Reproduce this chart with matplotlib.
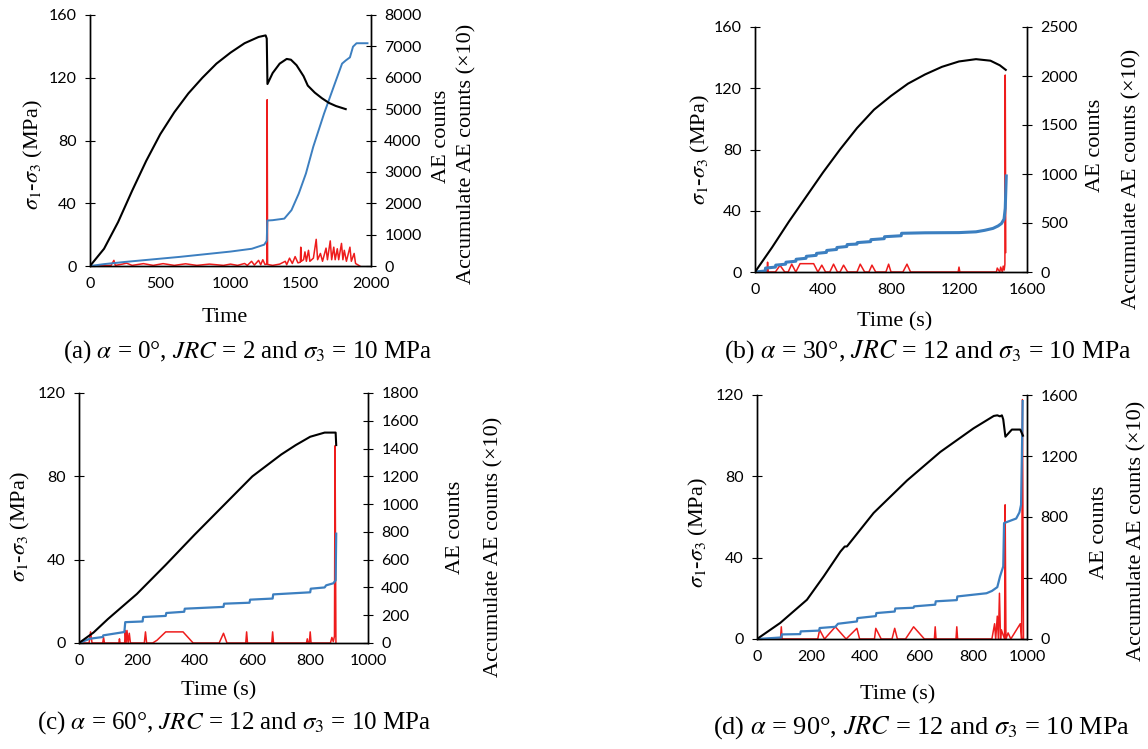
import numpy as np
import matplotlib
matplotlib.use('Agg')
import matplotlib.pyplot as plt
from matplotlib.ticker import MultipleLocator

plt.rcParams['mathtext.fontset'] = 'stix'
plt.rcParams['font.family'] = ['Liberation Serif', 'DejaVu Serif']

# ---- panel (a): alpha = 0, JRC = 2 ----
a_stress = [(0, 0), (100, 11), (200, 28), (300, 48), (400, 67), (500, 84), (600, 98),
            (700, 110), (800, 120), (900, 129), (1000, 136), (1100, 142), (1200, 146),
            (1250, 147), (1258, 145), (1263, 116), (1300, 123), (1350, 129), (1400, 132),
            (1430, 131.5), (1470, 128), (1520, 121), (1550, 115), (1600, 110.5),
            (1650, 107), (1700, 104), (1750, 102), (1820, 100)]
a_cum = [(0, 0), (100, 60), (250, 130), (637, 290), (1000, 460), (1152, 550), (1240, 680),
         (1258, 800), (1262, 1450), (1300, 1460), (1383, 1510), (1434, 1780), (1486, 2310),
         (1537, 2950), (1589, 3800), (1666, 4860), (1743, 5820), (1794, 6450), (1820, 6550),
         (1850, 6650), (1872, 6990), (1897, 7100), (1975, 7100)]
a_ae = [(0, 0), (150, 20), (170, 180), (180, 20), (230, 60), (260, 90), (300, 20), (380, 75),
        (450, 20), (520, 75), (600, 20), (680, 70), (760, 20), (850, 60), (950, 20),
        (1000, 60), (1050, 20), (1100, 80), (1120, 20), (1150, 150), (1170, 30), (1200, 180),
        (1215, 40), (1230, 200), (1245, 50), (1258, 60), (1261, 5300), (1264, 50),
        (1300, 20), (1350, 60), (1390, 150), (1400, 40), (1420, 250), (1440, 80),
        (1460, 300), (1480, 100), (1497, 120), (1500, 600), (1503, 150), (1520, 200),
        (1530, 450), (1540, 150), (1555, 500), (1565, 150), (1590, 250), (1610, 850),
        (1620, 200), (1640, 400), (1655, 150), (1680, 570), (1690, 200), (1710, 800),
        (1720, 200), (1735, 600), (1745, 200), (1760, 550), (1770, 200), (1790, 720),
        (1800, 200), (1810, 500), (1825, 150), (1850, 600), (1860, 150), (1880, 400),
        (1890, 80), (1920, 0)]

# ---- panel (b): alpha = 30, JRC = 12 ----
b_stress = [(0, 0), (100, 16), (200, 33), (300, 49), (400, 65), (500, 80), (600, 94),
            (700, 106), (800, 115), (900, 123), (1000, 129), (1100, 134), (1200, 137.5),
            (1300, 139), (1385, 138), (1440, 135), (1475, 132)]
b_cum = [(0, 0), (60, 10), (62, 40), (120, 50), (122, 70), (180, 80), (182, 100), (240, 110),
         (242, 130), (300, 140), (302, 160), (360, 170), (362, 190), (420, 200), (422, 220),
         (480, 230), (482, 250), (540, 260), (542, 280), (600, 285), (602, 300), (680, 310),
         (682, 330), (760, 340), (762, 360), (860, 370), (862, 395), (1000, 400),
         (1200, 402), (1300, 410), (1350, 425), (1400, 445), (1430, 470), (1450, 495),
         (1465, 540), (1472, 650), (1478, 980)]
b_ae = [(0, 0), (70, 0), (74, 100), (78, 0), (120, 0), (147, 68), (175, 0), (195, 0),
        (216, 80), (240, 0), (265, 85), (345, 85), (370, 0), (393, 70), (415, 0), (440, 0),
        (462, 80), (485, 0), (500, 0), (521, 70), (545, 0), (600, 0), (619, 80), (645, 0),
        (670, 0), (688, 70), (710, 0), (770, 0), (786, 80), (800, 0), (870, 0), (894, 80),
        (915, 0), (1195, 0), (1200, 50), (1205, 0), (1420, 0), (1425, 40), (1440, 0),
        (1445, 50), (1455, 0), (1460, 60), (1466, 20), (1470, 80), (1472, 2010), (1475, 200)]

# ---- panel (c): alpha = 60, JRC = 12 ----
c_stress = [(0, 0), (50, 5), (100, 11.5), (200, 23.5), (300, 37.5), (400, 52), (500, 66),
            (600, 80), (700, 90.5), (750, 95), (800, 99), (850, 101), (888, 101), (890, 95)]
c_cum = [(0, 0), (38, 31), (82, 43), (84, 55), (157, 79), (160, 150), (220, 155),
         (222, 187), (300, 195), (302, 216), (364, 225), (366, 247), (500, 260), (502, 283),
         (590, 290), (592, 312), (670, 320), (672, 350), (800, 365), (802, 391), (850, 400),
         (855, 415), (880, 430), (888, 451), (890, 787)]
c_ae = [(0, 0), (35, 0), (40, 80), (45, 0), (82, 0), (85, 40), (88, 0), (138, 0), (140, 30),
        (142, 0), (158, 0), (160, 90), (163, 0), (166, 90), (170, 0), (174, 70), (178, 0),
        (226, 0), (230, 80), (234, 0), (255, 0), (270, 20), (300, 80), (360, 80), (395, 0),
        (485, 0), (500, 70), (512, 0), (577, 0), (580, 80), (583, 0), (667, 0), (670, 80),
        (673, 0), (787, 0), (790, 30), (793, 0), (797, 0), (800, 80), (803, 0), (870, 0),
        (875, 40), (880, 10), (884, 50), (886, 1420), (889, 0)]

# ---- panel (d): alpha = 90, JRC = 12 ----
d_stress = [(0, 0), (86, 7.9), (185, 19.3), (247, 30.8), (309, 43), (325, 45.5),
            (333, 45.5), (432, 62), (556, 78), (679, 92), (802, 103.6), (877, 109.7),
            (890, 110), (900, 109.5), (907, 110), (912, 108), (920, 99.5), (944, 103),
            (975, 103), (985, 100)]
d_cum = [(0, 0), (90, 10), (92, 30), (160, 32), (162, 50), (230, 55), (232, 72), (290, 80),
         (300, 100), (370, 115), (372, 137), (440, 150), (442, 170), (510, 180), (512, 200),
         (580, 205), (582, 214), (660, 225), (662, 247), (740, 255), (742, 279), (850, 300),
         (870, 315), (890, 340), (900, 410), (912, 476), (915, 760), (960, 790), (972, 830),
         (978, 880), (982, 1300), (984, 1560)]
d_ae = [(0, 0), (87, 0), (90, 80), (93, 0), (225, 0), (232, 60), (250, 0), (290, 80),
        (330, 0), (370, 70), (380, 0), (435, 0), (440, 70), (460, 0), (500, 0), (510, 70),
        (520, 0), (550, 0), (580, 80), (620, 0), (657, 0), (660, 80), (663, 0), (737, 0),
        (740, 80), (743, 0), (870, 0), (880, 100), (884, 0), (890, 150), (894, 0),
        (898, 300), (902, 0), (905, 60), (917, 0), (919, 880), (922, 0), (930, 40),
        (940, 0), (975, 100), (980, 0), (983, 1570), (987, 0)]

panels = [
    dict(data=(a_stress, a_cum, a_ae), xlim=2000, xstep=500, ylim=160, ystep=40,
         rlim=8000, rstep=1000, xlabel='Time', cum_lw=1.4,
         caption=r'(a) $\alpha$ = 0°, $JRC$ = 2 and $\sigma_3$ = 10 MPa'),
    dict(data=(b_stress, b_cum, b_ae), xlim=1600, xstep=400, ylim=160, ystep=40,
         rlim=2500, rstep=500, xlabel='Time (s)', cum_lw=2.2,
         caption=r'(b) $\alpha$ = 30°, $JRC$ = 12 and $\sigma_3$ = 10 MPa'),
    dict(data=(c_stress, c_cum, c_ae), xlim=1000, xstep=200, ylim=120, ystep=40,
         rlim=1800, rstep=200, xlabel='Time (s)', cum_lw=1.6,
         caption=r'(c) $\alpha$ = 60°, $JRC$ = 12 and $\sigma_3$ = 10 MPa'),
    dict(data=(d_stress, d_cum, d_ae), xlim=1000, xstep=200, ylim=120, ystep=40,
         rlim=1600, rstep=400, xlabel='Time (s)', cum_lw=1.6,
         caption=r'(d) $\alpha$ = 90°, $JRC$ = 12 and $\sigma_3$ = 10 MPa'),
]

# pixel layout of the original figure (left, right, top, bottom)
W, H = 1148, 749
boxes = [(90, 371, 15, 266), (755, 1027, 27, 272), (79, 368, 393, 643), (757, 1027, 395, 639)]
ylab_pos = [(33, 155), (700, 150), (20, 527), (698, 533)]
xlab_pos = [(225, 318), (895, 322), (219, 691), (898, 695)]
ae_pos = [(442, 136), (1095, 145), (455, 527), (1100, 532)]
acc_pos = [(467, 154), (1132, 179), (494, 547), (1137, 531)]
cap_pos = [(248, 352), (928, 352), (234, 723), (922, 728)]
cap_size = [18, 18.5, 18, 19]

BLUE = '#3c7fc0'
RED = '#ee1c1c'
TICKFONT = 'Lato'

fig = plt.figure(figsize=(W / 100, H / 100), dpi=100)

for i, p in enumerate(panels):
    l, r, t, b = boxes[i]
    ax = fig.add_axes([l / W, 1 - b / H, (r - l) / W, (b - t) / H])
    ax2 = ax.twinx()
    stress, cum, ae = [np.array(d, dtype=float).T for d in p['data']]

    ax2.plot(ae[0], ae[1], color=RED, lw=1.1, zorder=2)
    ax2.plot(cum[0], cum[1], color=BLUE, lw=p['cum_lw'], zorder=3)
    ax.plot(stress[0], stress[1], color='black', lw=1.5)

    ax.set_zorder(ax2.get_zorder() + 1)
    ax.patch.set_visible(False)

    ax.set_xlim(0, p['xlim'])
    ax.set_ylim(0, p['ylim'])
    ax2.set_ylim(0, p['rlim'])
    ax.xaxis.set_major_locator(MultipleLocator(p['xstep']))
    ax.yaxis.set_major_locator(MultipleLocator(p['ystep']))
    ax2.yaxis.set_major_locator(MultipleLocator(p['rstep']))

    for a in (ax, ax2):
        a.spines['top'].set_visible(False)
        for s in a.spines.values():
            s.set_linewidth(1.0)
        for lab in a.get_xticklabels() + a.get_yticklabels():
            lab.set_fontfamily(TICKFONT)
            lab.set_fontsize(11.5)
    ax.tick_params(axis='x', length=0, pad=8)
    ax.tick_params(axis='y', direction='inout', length=7, pad=6)
    ax2.tick_params(axis='y', direction='inout', length=7, pad=6)

    x, y = ylab_pos[i]
    fig.text(x / W, 1 - y / H, r'$\sigma_1$-$\sigma_3$ (MPa)', rotation=90,
             ha='center', va='center', fontsize=16)
    x, y = xlab_pos[i]
    fig.text(x / W, 1 - y / H, p['xlabel'], ha='center', va='center', fontsize=16)
    x, y = ae_pos[i]
    fig.text(x / W, 1 - y / H, 'AE counts', rotation=90, ha='center', va='center', fontsize=16)
    x, y = acc_pos[i]
    fig.text(x / W, 1 - y / H, 'Accumulate AE counts (×10)', rotation=90,
             ha='center', va='center', fontsize=16)
    x, y = cap_pos[i]
    fig.text(x / W, 1 - y / H, p['caption'], ha='center', va='center', fontsize=cap_size[i])

fig.savefig('out.png', dpi=100)
